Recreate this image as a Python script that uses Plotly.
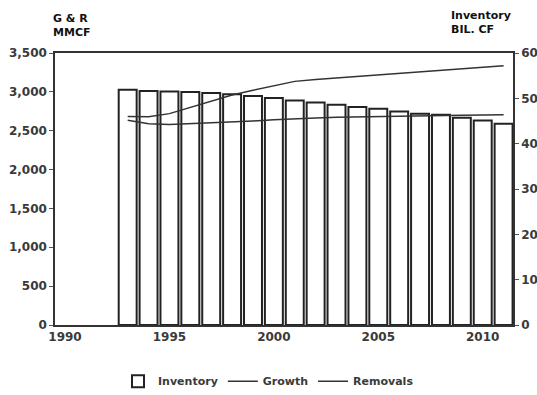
import plotly.graph_objects as go

years = list(range(1993, 2012))
inventory = [51.9, 51.6, 51.5, 51.4, 51.2, 50.9, 50.5, 50.1, 49.5, 49.1, 48.6,
             48.1, 47.7, 47.1, 46.6, 46.4, 45.7, 45.1, 44.4]
growth = [2683, 2680, 2720, 2800, 2880, 2960, 3020, 3080, 3135, 3160, 3180,
          3200, 3220, 3240, 3260, 3280, 3300, 3318, 3337]
removals = [2635, 2590, 2580, 2590, 2600, 2610, 2625, 2640, 2655, 2665, 2672,
            2678, 2683, 2688, 2692, 2696, 2700, 2703, 2705]
x_ticks = [1990, 1995, 2000, 2005, 2010]
left_ticks = [0, 500, 1000, 1500, 2000, 2500, 3000, 3500]
right_ticks = [0, 10, 20, 30, 40, 50, 60]

tickfont = dict(family="DejaVu Sans", size=12, color="#3a3a3a", weight="bold")

fig = go.Figure()
fig.add_trace(go.Bar(x=years, y=inventory, name="Inventory", yaxis="y",
                     width=0.86, marker=dict(color="white",
                     line=dict(color="#222", width=2))))
fig.add_trace(go.Scatter(x=years, y=growth, name="Growth", yaxis="y2",
                         mode="lines", line=dict(color="#333", width=1.5)))
fig.add_trace(go.Scatter(x=years, y=removals, name="Removals", yaxis="y2",
                         mode="lines", line=dict(color="#333", width=1.5)))

fig.update_layout(
    width=537, height=395,
    margin=dict(l=55, r=24, t=53, b=70, autoexpand=False),
    paper_bgcolor="white", plot_bgcolor="white",
    showlegend=True,
    legend=dict(orientation="h", x=0.5, xanchor="center", xref="container",
                y=0.035, yanchor="middle", yref="container",
                font=dict(family="DejaVu Sans", size=11, color="#3a3a3a", weight="bold"),
                itemwidth=30, traceorder="normal"),
    xaxis=dict(range=[1989.52, 2011.45], tickvals=x_ticks, showgrid=False,
               zeroline=False, showline=True, linecolor="#333", linewidth=1.5,
               mirror=True, ticks="", tickfont=tickfont, automargin=False),
    yaxis=dict(range=[0, 60], tickvals=right_ticks, side="right", showgrid=False,
               zeroline=False, showline=True, linecolor="#333", linewidth=1.5,
               ticks="outside", ticklen=4, tickcolor="#555", tickfont=tickfont,
               automargin=False),
    yaxis2=dict(range=[0, 3500], tickvals=left_ticks, tickformat=",", side="left",
                overlaying="y", showgrid=False, zeroline=False, showline=True,
                linecolor="#333", linewidth=1.5, ticks="outside", ticklen=4,
                tickcolor="#555", tickfont=tickfont, automargin=False),
    bargap=0.12,
)

fig.add_annotation(text="G & R<br>MMCF", xref="paper", yref="paper", x=0, y=1,
                   xanchor="left", yanchor="bottom", yshift=12, xshift=-4, align="left",
                   showarrow=False,
                   font=dict(family="DejaVu Sans", size=11, color="#111", weight="bold"))
fig.add_annotation(text="Inventory<br>BIL. CF", xref="paper", yref="paper", x=1, y=1,
                   xanchor="right", yanchor="bottom", yshift=15, align="left",
                   showarrow=False,
                   font=dict(family="DejaVu Sans", size=11, color="#111", weight="bold"))

fig.write_html("out.html")
